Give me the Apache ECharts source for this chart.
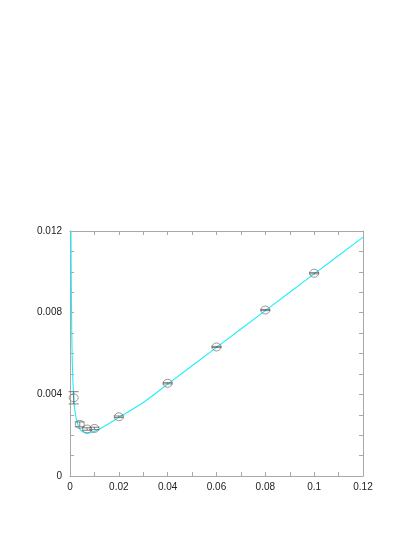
<!DOCTYPE html>
<html>
<head>
<meta charset="utf-8">
<script src="https://cdn.jsdelivr.net/npm/echarts@6/dist/echarts.min.js"></script>
<style>
  html, body { margin: 0; padding: 0; background: #fff; }
  #chart { width: 415px; height: 537px; }
</style>
</head>
<body>
<div id="chart"></div>
<script>
// measured points: x, y, error
const pointX = [0.0015, 0.004, 0.007, 0.01, 0.02, 0.04, 0.06, 0.08, 0.1]
const pointY = [0.00383, 0.00253, 0.0023, 0.00233, 0.0029, 0.00454, 0.00632, 0.00813, 0.00993]
const pointErr = [0.0003, 0.00012, 0.00006, 0.00006, 0.00004, 0.00003, 0.00003, 0.00003, 0.00003]

// fitted curve
const fitX = [0.0004, 0.0005, 0.0007, 0.001, 0.0015, 0.002, 0.003, 0.004, 0.005, 0.007, 0.01, 0.015, 0.02, 0.03, 0.04, 0.06, 0.08, 0.1, 0.12]
const fitY = [0.012, 0.0098, 0.0073, 0.0053, 0.0039, 0.0032, 0.0026, 0.0023, 0.00218, 0.0021, 0.00218, 0.0025, 0.00287, 0.0036, 0.0045, 0.0063, 0.0081, 0.0099, 0.0117]

const xTicks = [0, 0.02, 0.04, 0.06, 0.08, 0.1, 0.12]
const yTicks = [0, 0.004, 0.008, 0.012]
const xLabels = ['0', '0.02', '0.04', '0.06', '0.08', '0.1', '0.12']
const yLabels = ['0', '0.004', '0.008', '0.012']

const axisGrey = '#a8a8a8'
const markGrey = '#606060'
const font = { color: '#222', fontFamily: 'Liberation Sans, Arial, sans-serif', fontSize: 10 }

function labelFor(ticks, labels) {
  return (v) => {
    const i = ticks.findIndex((t) => Math.abs(t - v) < 1e-9)
    return i >= 0 ? labels[i] : ''
  }
}

function makeAxis(extra, split, showLabel, margin, ticks, labels) {
  return {
    type: 'value',
    ...extra,
    axisLine: { show: true, onZero: false, lineStyle: { color: axisGrey, width: 1 } },
    axisTick: { show: true, inside: true, length: 4, lineStyle: { color: axisGrey } },
    minorTick: { show: true, splitNumber: split, length: 4, lineStyle: { color: axisGrey } },
    splitLine: { show: false },
    axisLabel: showLabel
      ? { show: true, margin, ...font, formatter: labelFor(ticks, labels) }
      : { show: false }
  }
}

const chart = echarts.init(document.getElementById('chart'))

const points = pointX.map((x, i) => [x, pointY[i], pointErr[i]])
const fit = fitX.map((x, i) => [x, fitY[i]])

chart.setOption({
  animation: false,
  grid: { left: 70, right: 52, top: 231, bottom: 61 },
  xAxis: [
    makeAxis({ min: 0, max: 0.12, interval: 0.02, position: 'bottom' }, 2, true, 6, xTicks, xLabels),
    makeAxis({ min: 0, max: 0.12, interval: 0.02, position: 'top' }, 2, false)
  ],
  yAxis: [
    makeAxis({ min: 0, max: 0.012, interval: 0.004, position: 'left' }, 4, true, 8, yTicks, yLabels),
    makeAxis({ min: 0, max: 0.012, interval: 0.004, position: 'right' }, 4, false)
  ],
  series: [
    {
      type: 'line',
      data: fit,
      smooth: 0.35,
      showSymbol: false,
      lineStyle: { color: '#1cf0f8', width: 1.1 },
      z: 2
    },
    {
      type: 'custom',
      data: points,
      renderItem: (params, api) => {
        const x = api.value(0), y = api.value(1), e = api.value(2)
        const top = api.coord([x, y + e])
        const bot = api.coord([x, y - e])
        const hw = 5
        const style = { stroke: markGrey, lineWidth: 0.8, fill: null }
        return {
          type: 'group',
          children: [
            { type: 'line', shape: { x1: top[0], y1: top[1], x2: bot[0], y2: bot[1] }, style },
            { type: 'line', shape: { x1: top[0] - hw, y1: top[1], x2: top[0] + hw, y2: top[1] }, style },
            { type: 'line', shape: { x1: bot[0] - hw, y1: bot[1], x2: bot[0] + hw, y2: bot[1] }, style }
          ]
        }
      },
      z: 3
    },
    {
      type: 'scatter',
      data: points.map((p) => [p[0], p[1]]),
      symbol: 'circle',
      symbolSize: [9, 8],
      itemStyle: { color: 'rgba(255,255,255,0)', borderColor: markGrey, borderWidth: 0.8 },
      z: 4
    }
  ]
})
</script>
</body>
</html>
